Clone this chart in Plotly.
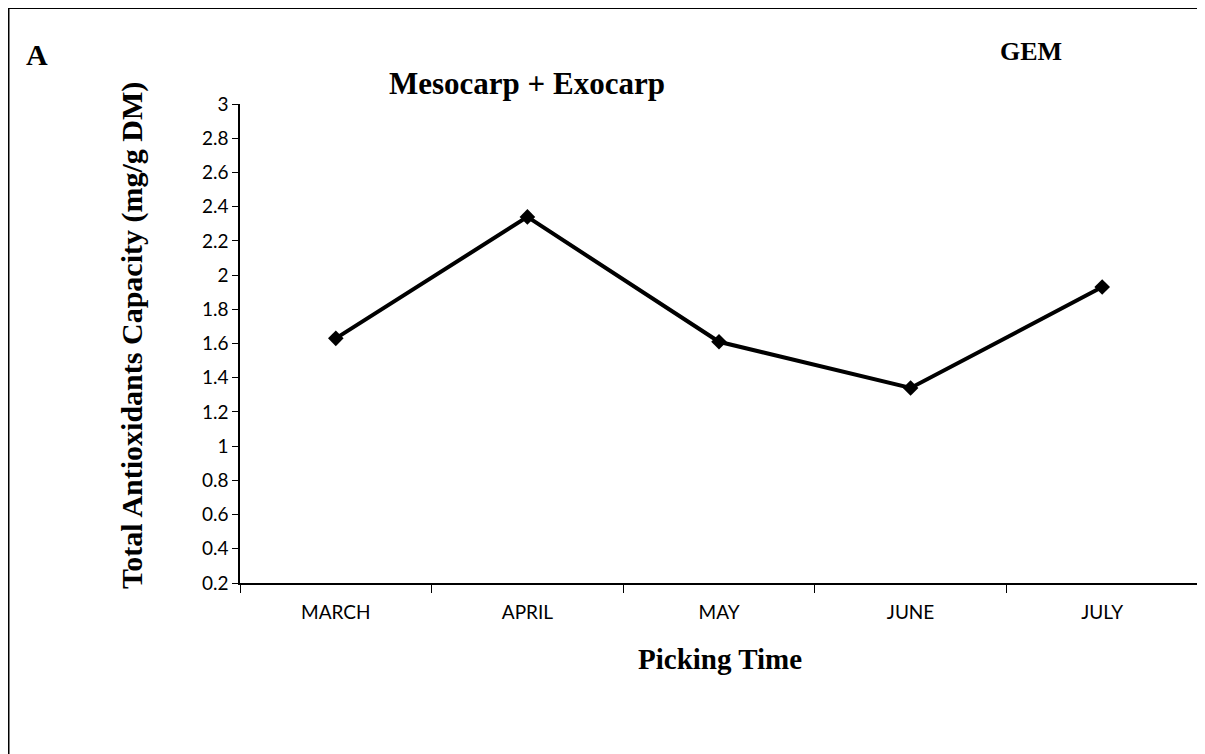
import plotly.graph_objects as go

months = ["MARCH", "APRIL", "MAY", "JUNE", "JULY"]
tac_values = [1.63, 2.34, 1.61, 1.34, 1.93]
y_ticks = [0.2, 0.4, 0.6, 0.8, 1, 1.2, 1.4, 1.6, 1.8, 2, 2.2, 2.4, 2.6, 2.8, 3]

# page is offset by the default 8px body margin
OFF = 8
W, H = 1205, 754
# desired plot area in page pixels
PL, PR, PT, PB = 240, 1198, 104, 583
L = PL - OFF
T = PT - OFF
R = W - (PR - OFF)
B = H - (PB - OFF)
pw, ph = W - L - R, H - T - B


def px_x(px):
    return (px - OFF - L) / pw


def px_y(py):
    return (H - B - (py - OFF)) / ph


serif = "Liberation Serif, Times New Roman, serif"
sans = "Lato, Open Sans, sans-serif"


def label(text, x, y, size, angle=0):
    return dict(text=text, x=px_x(x), y=px_y(y), xref="paper", yref="paper",
                xanchor="center", yanchor="middle", textangle=angle,
                showarrow=False, font=dict(family=serif, size=size, color="black"))


fig = go.Figure()
fig.add_trace(go.Scatter(
    x=months, y=tac_values, mode="lines+markers",
    line=dict(color="black", width=4),
    marker=dict(symbol="diamond", size=12, color="black"),
    showlegend=False,
))

fig.update_layout(
    width=W, height=H,
    margin=dict(l=L, r=R, t=T, b=B),
    paper_bgcolor="white", plot_bgcolor="white",
    xaxis=dict(
        type="category", range=[-0.5, 4.5], tickson="boundaries",
        ticks="outside", ticklen=8, tickcolor="black", tickwidth=1,
        ticklabelstandoff=11,
        showline=True, linecolor="black", linewidth=1.5,
        showgrid=False, zeroline=False,
        tickfont=dict(family=sans, size=19, color="black"),
    ),
    yaxis=dict(
        range=[0.2, 3], tickvals=y_ticks, ticktext=[f"{v:g}" for v in y_ticks],
        ticks="outside", ticklen=6, tickcolor="black", tickwidth=1,
        showline=True, linecolor="black", linewidth=1.5,
        showgrid=False, zeroline=False,
        tickfont=dict(family=sans, size=19, color="black"),
    ),
    annotations=[
        label("<b>A</b>", 37, 55, 30),
        label("<b>GEM</b>", 1031, 52, 26),
        label("<b>Mesocarp + Exocarp</b>", 527, 84, 31),
        label("<b>Picking Time</b>", 720, 659, 29),
        label("<b>Total Antioxidants Capacity (mg/g DM)</b>", 132, 336, 30, -90),
    ],
    shapes=[
        dict(type="line", xref="paper", yref="paper", x0=px_x(8.5), x1=px_x(8.5),
             y0=px_y(7), y1=px_y(770), line=dict(color="black", width=2)),
        dict(type="line", xref="paper", yref="paper", x0=px_x(7.5), x1=px_x(1220),
             y0=px_y(8), y1=px_y(8), line=dict(color="black", width=2)),
    ],
)

fig.write_html("out.html")
